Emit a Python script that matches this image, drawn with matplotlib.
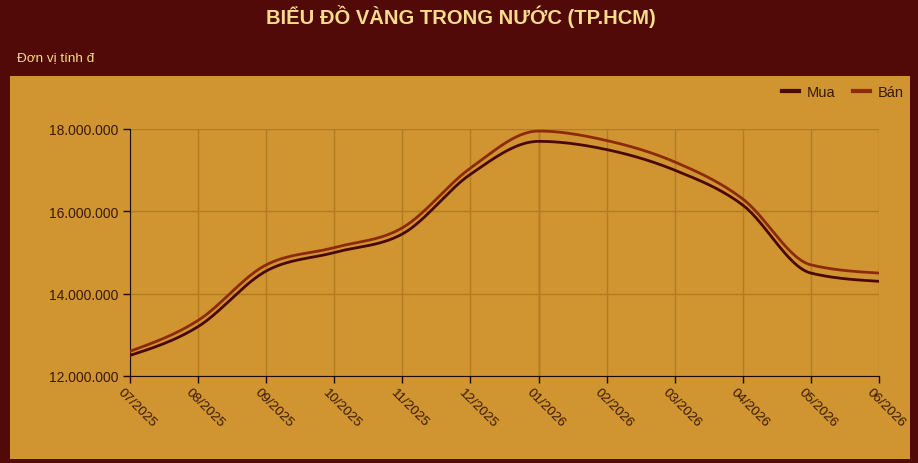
import numpy as np
import matplotlib
matplotlib.use("Agg")
import matplotlib.pyplot as plt
from matplotlib.lines import Line2D
from matplotlib.transforms import ScaledTranslation

months = ["07/2025", "08/2025", "09/2025", "10/2025", "11/2025", "12/2025",
          "01/2026", "02/2026", "03/2026", "04/2026", "05/2026", "06/2026"]
mua = [12.50e6, 13.20e6, 14.55e6, 15.00e6, 15.45e6, 16.90e6,
       17.70e6, 17.50e6, 17.00e6, 16.15e6, 14.50e6, 14.30e6]
ban = [12.60e6, 13.35e6, 14.70e6, 15.12e6, 15.60e6, 17.05e6,
       17.95e6, 17.72e6, 17.20e6, 16.30e6, 14.70e6, 14.50e6]
yticks = [12e6, 14e6, 16e6, 18e6]
ytick_labels = ["12.000.000", "14.000.000", "16.000.000", "18.000.000"]

W, H = 918, 464
BG = "#520a08"
PANEL = "#d09430"
GRID = "#b47c22"
TXT = "#f6dc8c"
MUA_C = "#4a0805"
BAN_C = "#8e2a0c"


def monotone(x, y, n=30):
    x = np.asarray(x, float); y = np.asarray(y, float)
    h = np.diff(x); d = np.diff(y) / h
    m = np.zeros_like(y)
    for i in range(1, len(y) - 1):
        if d[i - 1] * d[i] <= 0:
            m[i] = 0
        else:
            p = (d[i - 1] * h[i] + d[i] * h[i - 1]) / (h[i - 1] + h[i])
            m[i] = (np.sign(d[i - 1]) + np.sign(d[i])) * min(abs(d[i - 1]), abs(d[i]), 0.5 * abs(p))
    m[0] = (3 * d[0] - m[1]) / 2
    m[-1] = (3 * d[-1] - m[-2]) / 2
    xs, ys = [], []
    for i in range(len(x) - 1):
        t = np.linspace(0, 1, n, endpoint=False)
        h00 = 2 * t**3 - 3 * t**2 + 1
        h10 = t**3 - 2 * t**2 + t
        h01 = -2 * t**3 + 3 * t**2
        h11 = t**3 - t**2
        xs.append(x[i] + t * h[i])
        ys.append(h00 * y[i] + h10 * h[i] * m[i] + h01 * y[i + 1] + h11 * h[i] * m[i + 1])
    xs.append([x[-1]]); ys.append([y[-1]])
    return np.concatenate(xs), np.concatenate(ys)


plt.rcParams["font.family"] = ["Liberation Sans", "DejaVu Sans"]
fig = plt.figure(figsize=(W / 100, H / 100), dpi=100, facecolor=BG)

bg = fig.add_axes([10 / W, 1 - 460 / H, 900 / W, 383 / H], zorder=-5)
bg.set_facecolor(PANEL)
bg.set_xticks([]); bg.set_yticks([])
for s in bg.spines.values():
    s.set_visible(False)

fig.text(461 / W, 1 - 17 / H, "BIỂU ĐỒ VÀNG TRONG NƯỚC (TP.HCM)", ha="center",
         va="center", color=TXT, fontsize=14.5, fontweight="bold")
fig.text(17 / W, 1 - 58 / H, "Đơn vị tính đ", ha="left", va="center",
         color=TXT, fontsize=9.7)

ax = fig.add_axes([130 / W, 1 - 377 / H, (879 - 130) / W, (377 - 130) / H], zorder=1)
ax.set_facecolor("none")
x = np.arange(len(months))
xs, ys = monotone(x, mua)
ax.plot(xs, ys, color=MUA_C, lw=2, zorder=3)
xs, ys = monotone(x, ban)
ax.plot(xs, ys, color=BAN_C, lw=2, zorder=3)

ax.set_xlim(0, len(months) - 1)
ax.set_ylim(12e6, 18e6)
ax.set_yticks(yticks)
ax.set_yticklabels(ytick_labels)
ax.set_xticks(x)
ax.set_xticklabels(months, rotation=-45, ha="left", va="center",
                   rotation_mode="anchor")
ax.tick_params(axis="both", colors="#1a0a05", labelcolor="#3a1a08",
               labelsize=9.7, length=5, width=1)
ax.tick_params(axis="x", pad=6)
ax.tick_params(axis="y", labelsize=10)
shift = ScaledTranslation(-10 / 100, 1 / 100, fig.dpi_scale_trans)
for lab in ax.get_xticklabels():
    lab.set_transform(lab.get_transform() + shift)
ax.grid(True, color=GRID, lw=1, zorder=0)
ax.axvline(6, color="#a87020", lw=1, zorder=1)
for s in ["top", "right"]:
    ax.spines[s].set_visible(False)
for s in ["left", "bottom"]:
    ax.spines[s].set_color("#1a0a05")

handles = [Line2D([], [], color=MUA_C, lw=3), Line2D([], [], color=BAN_C, lw=3)]
fig.legend(handles, ["Mua", "Bán"], loc="center right",
           bbox_to_anchor=(910 / W, 1 - 93 / H), ncol=2, frameon=False,
           borderaxespad=0, borderpad=0.4,
           fontsize=10.5, handlelength=1.2, columnspacing=1.15,
           handletextpad=0.55, labelcolor="#3a1a08")

fig.savefig("out.png", dpi=100, facecolor=BG)
